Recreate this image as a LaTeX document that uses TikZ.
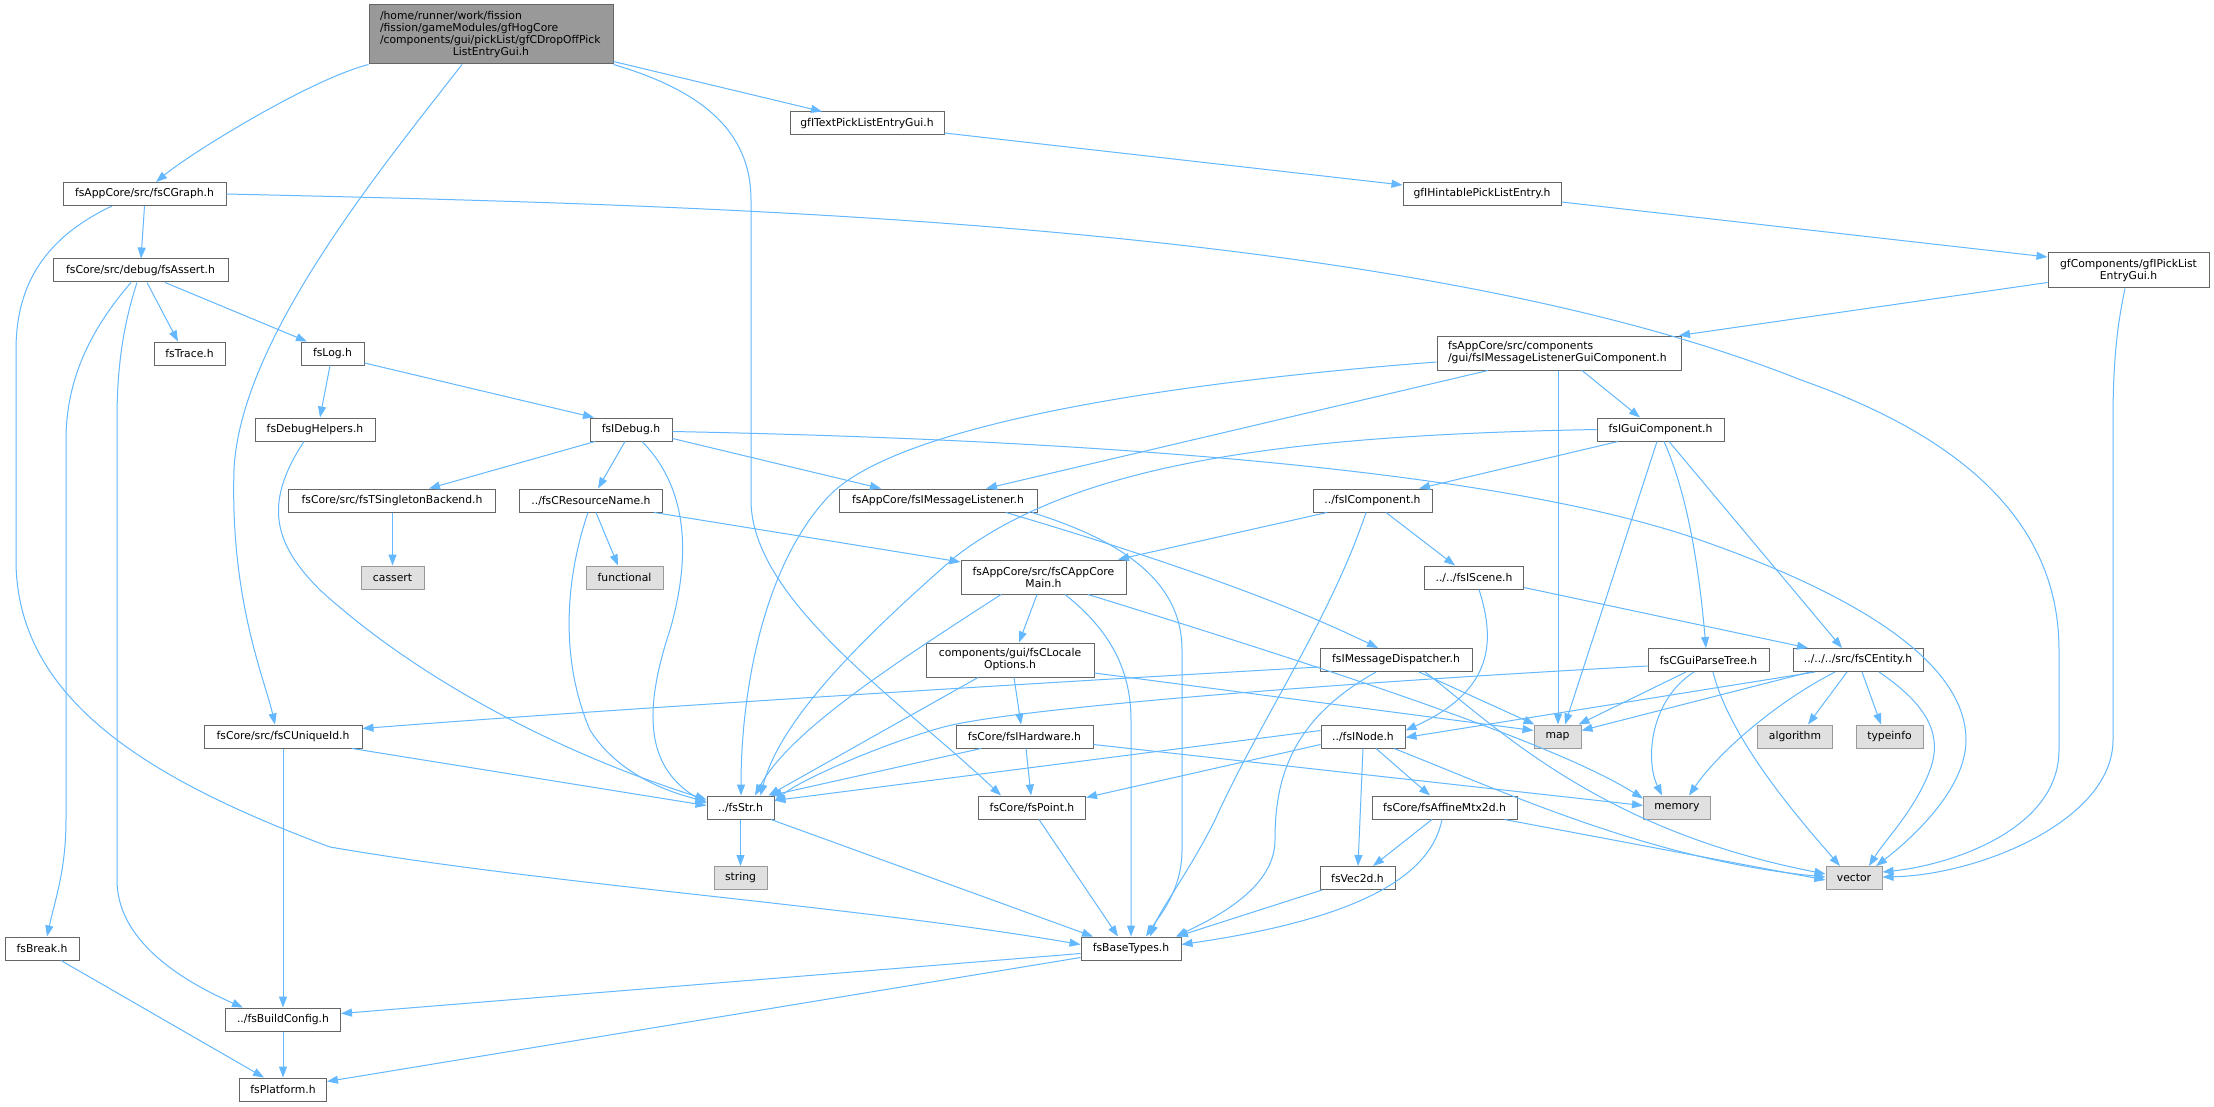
\documentclass[tikz,border=0pt]{standalone}
\usepackage{fontspec}
\newfontfamily\dvs{DejaVu Sans}
\usetikzlibrary{arrows.meta}
\definecolor{edgeblue}{HTML}{63B8FF}
\definecolor{boxborder}{HTML}{666666}
\definecolor{sysfill}{HTML}{E0E0E0}
\definecolor{sysborder}{HTML}{999999}
\definecolor{rootfill}{HTML}{999999}
\begin{document}
\begin{tikzpicture}[x=1pt,y=-1pt,
  box/.style={draw=boxborder, fill=white, line width=1pt, inner sep=0pt, minimum height=23pt, font=\dvs\fontsize{10.8}{12}\selectfont, align=center},
  sysbox/.style={box, draw=sysborder, fill=sysfill},
  rootbox/.style={box, fill=rootfill},
  dep/.style={draw=edgeblue, line width=1pt, -{Triangle[length=11pt,width=8pt]}},
]
\fill[white] (0,0) rectangle (2214,1107);
\useasboundingbox (0,0) rectangle (2214,1107);

% nodes
\node[rootbox, minimum width=244pt, minimum height=59pt, text width=222pt, align=left] (root) at (491,34.5) {/home/runner/work/fission\\/fission/gameModules/gfHogCore\\/components/gui/pickList/gfCDropOffPick\\\makebox[222pt][c]{ListEntryGui.h}};
\node[box, minimum width=163pt] (cgraph) at (144.5,194) {fsAppCore/src/fsCGraph.h};
\node[box, minimum width=175pt] (assert) at (140.5,270.5) {fsCore/src/debug/fsAssert.h};
\node[box, minimum width=71pt] (trace) at (189.5,353.5) {fsTrace.h};
\node[box, minimum width=63pt] (log) at (332.5,353.5) {fsLog.h};
\node[box, minimum width=154pt] (text) at (867,123.5) {gfITextPickListEntryGui.h};
\node[box, minimum width=158pt] (hint) at (1482,194) {gfIHintablePickListEntry.h};
\node[box, minimum width=161pt, minimum height=35pt] (pick) at (2128.5,270.5) {gfComponents/gfIPickList\\EntryGui.h};
\node[box, minimum width=244pt, minimum height=34pt, text width=222pt, align=left] (mlgc) at (1559,353) {fsAppCore/src/components\\/gui/fsIMessageListenerGuiComponent.h};
\node[box, minimum width=120pt] (dbgh) at (315,429.5) {fsDebugHelpers.h};
\node[box, minimum width=82pt] (idebug) at (631,429.5) {fsIDebug.h};
\node[box, minimum width=127pt] (igui) at (1660.5,429.5) {fsIGuiComponent.h};
\node[box, minimum width=207pt] (tsing) at (392,500.5) {fsCore/src/fsTSingletonBackend.h};
\node[box, minimum width=143pt] (resname) at (591,500.5) {../fsCResourceName.h};
\node[box, minimum width=198pt] (imsgl) at (938,500.5) {fsAppCore/fsIMessageListener.h};
\node[box, minimum width=119pt] (icomp) at (1372.5,500.5) {../fsIComponent.h};
\node[sysbox, minimum width=63pt] (cassert) at (392.5,577.5) {cassert};
\node[sysbox, minimum width=77pt] (functional) at (624.5,577.5) {functional};
\node[box, minimum width=165pt, minimum height=34pt] (appcore) at (1043.5,577) {fsAppCore/src/fsCAppCore\\Main.h};
\node[box, minimum width=99pt] (iscene) at (1474,577.5) {../../fsIScene.h};
\node[box, minimum width=158pt] (uniq) at (283,736.5) {fsCore/src/fsCUniqueId.h};
\node[box, minimum width=168pt, minimum height=34pt] (locale) at (1010,660) {components/gui/fsCLocale\\Options.h};
\node[box, minimum width=152pt] (disp) at (1396,660) {fsIMessageDispatcher.h};
\node[box, minimum width=121pt] (parse) at (1708.5,660) {fsCGuiParseTree.h};
\node[box, minimum width=130pt] (entity) at (1858,660) {../../../src/fsCEntity.h};
\node[box, minimum width=137pt] (hw) at (1024.5,736.5) {fsCore/fsIHardware.h};
\node[box, minimum width=84pt] (inode) at (1363,736.5) {../fsINode.h};
\node[sysbox, minimum width=47pt] (map) at (1557.5,736.5) {map};
\node[sysbox, minimum width=75pt] (algo) at (1795,736.5) {algorithm};
\node[sysbox, minimum width=67pt] (typeinfo) at (1889.5,736.5) {typeinfo};
\node[sysbox, minimum width=67pt] (memory) at (1677,807.5) {memory};
\node[box, minimum width=67pt] (str) at (740.5,807.5) {../fsStr.h};
\node[box, minimum width=107pt] (point) at (1032,807.5) {fsCore/fsPoint.h};
\node[box, minimum width=145pt] (affine) at (1444.5,807.5) {fsCore/fsAffineMtx2d.h};
\node[sysbox, minimum width=53pt] (string) at (740.5,878) {string};
\node[box, minimum width=75pt] (vec2d) at (1357.5,878) {fsVec2d.h};
\node[sysbox, minimum width=56pt] (vector) at (1854,878) {vector};
\node[box, minimum width=74pt] (brk) at (42,948.5) {fsBreak.h};
\node[box, minimum width=100pt] (base) at (1131,948.5) {fsBaseTypes.h};
\node[box, minimum width=115pt] (build) at (283,1019.5) {../fsBuildConfig.h};
\node[box, minimum width=87pt] (platform) at (283,1089.5) {fsPlatform.h};

% edges
\draw[dep] (root.south west) .. controls (309,80) and (191,153) .. ([xshift=11.5pt]cgraph.north);
\draw[dep] ([yshift=3pt]root.south east) -- ([xshift=-45pt]text.north);
\draw[dep] (root.south east) .. controls (700,90) and (751,130) .. (751,200) -- (751,500) .. controls (751,600) and (900,700) .. ([xshift=-31pt]point.north);
\draw[dep] ([xshift=-29pt]root.south) .. controls (380,170) and (240,340) .. (234,470) .. controls (230,600) and (265,680) .. ([xshift=-8pt]uniq.north);

\draw[dep] (cgraph.south) -- ([xshift=0.5pt]assert.north);
\draw[dep] ([xshift=-32.5pt]cgraph.south) .. controls (40,240) and (16,290) .. (16,350) -- (16,560) .. controls (16,700) and (150,780) .. (330,847) .. controls (550,885) and (850,905) .. ([yshift=4pt]base.west);
\draw[dep] (cgraph.east) .. controls (700,205) and (1400,220) .. (1801,380) .. controls (2000,450) and (2059,550) .. (2059,650) -- (2059,750) .. controls (2059,830) and (1950,865) .. ([yshift=6pt]vector.east);

\draw[dep] ([xshift=6.5pt]assert.south) -- ([xshift=-11.5pt]trace.north);
\draw[dep] ([xshift=24.5pt]assert.south) -- ([xshift=-25.5pt]log.north);
\draw[dep] ([xshift=-9.5pt]assert.south) .. controls (90,330) and (66,380) .. (66,440) -- (66,820) .. controls (66,870) and (55,900) .. ([xshift=5pt]brk.north);
\draw[dep] ([xshift=-3.5pt]assert.south) .. controls (125,320) and (117,360) .. (117,420) -- (117,880) .. controls (117,940) and (180,980) .. ([xshift=-40pt]build.north);

\draw[dep] ([xshift=-2.5pt]log.south) -- ([xshift=5pt]dbgh.north);
\draw[dep] ([yshift=-9.5pt]log.east) -- ([xshift=-37pt]idebug.north);

\draw[dep] ([xshift=-11pt]dbgh.south) .. controls (262,505) and (275,545) .. (320,590) .. controls (430,690) and (580,760) .. ([yshift=8pt]str.west);

\draw[dep] ([xshift=-36pt]idebug.south) -- ([xshift=37pt]tsing.north);
\draw[dep] ([xshift=-6pt]idebug.south) -- ([xshift=7pt]resname.north);
\draw[dep] ([xshift=11pt]idebug.south) .. controls (690,490) and (690,560) .. (670,630) .. controls (640,720) and (650,770) .. ([yshift=4pt]str.west);
\draw[dep] ([yshift=-9pt]idebug.east) -- ([xshift=-57pt]imsgl.north);
\draw[dep] ([yshift=-2pt]idebug.east) .. controls (1100,440) and (1500,470) .. (1700,540) .. controls (1900,610) and (1966,680) .. (1966,740) .. controls (1966,790) and (1910,840) .. ([xshift=22pt]vector.north);

\draw[dep] ([xshift=0.5pt]tsing.south) -- (cassert.north);
\draw[dep] ([xshift=5pt]resname.south) -- ([xshift=-6.5pt]functional.north);
\draw[dep] ([xshift=-3pt]resname.south) .. controls (565,580) and (560,660) .. (590,730) .. controls (615,770) and (660,790) .. ([yshift=6pt]str.west);
\draw[dep] ([xshift=63pt]resname.south) -- ([yshift=15pt]appcore.west);

\draw[dep] ([xshift=68pt]imsgl.south) .. controls (1150,555) and (1280,600) .. ([xshift=-18pt]disp.north);
\draw[dep] ([xshift=94pt]imsgl.south) .. controls (1120,540) and (1182,580) .. (1182,650) -- (1182,850) .. controls (1182,890) and (1160,915) .. ([xshift=15pt]base.north);

\draw[dep] ([xshift=-71pt]mlgc.south) -- ([xshift=48pt]imsgl.north);
\draw[dep] ([yshift=-9pt]mlgc.west) .. controls (1200,380) and (900,420) .. (828,497) .. controls (760,570) and (741,700) .. ([xshift=0.5pt]str.north);
\draw[dep] ([xshift=23pt]mlgc.south) -- ([xshift=-20.5pt]igui.north);
\draw[dep] ([xshift=-1pt]mlgc.south) -- ([xshift=0.5pt]map.north);

\draw[dep] ([yshift=-12pt]pick.west) -- ([xshift=120pt]mlgc.north);
\draw[dep] ([xshift=-3.5pt]pick.south) .. controls (2116,330) and (2113,370) .. (2113,420) -- (2113,740) .. controls (2113,820) and (1980,875) .. ([yshift=1pt]vector.east);
\draw[dep] ([yshift=-8pt]hint.east) -- ([yshift=13.5pt]pick.west);
\draw[dep] ([yshift=-9.5pt]text.east) -- ([yshift=9pt]hint.west);

\draw[dep] ([xshift=-42.5pt]igui.south) -- ([xshift=46.5pt]icomp.north);
\draw[dep] (igui.west) .. controls (1300,435) and (1080,460) .. (955,557) .. controls (860,640) and (780,720) .. ([xshift=20pt]str.north);
\draw[dep] ([xshift=-3.5pt]igui.south) -- ([xshift=7.5pt]map.north);
\draw[dep] ([xshift=3.5pt]igui.south) .. controls (1690,500) and (1700,580) .. ([xshift=-2.5pt]parse.north);
\draw[dep] ([xshift=8.5pt]igui.south) -- ([xshift=-16pt]entity.north);

\draw[dep] ([xshift=-45.5pt]icomp.south) -- ([xshift=74.5pt]appcore.north);
\draw[dep] ([xshift=13.5pt]icomp.south) -- ([xshift=-19pt]iscene.north);
\draw[dep] ([xshift=-6.5pt]icomp.south) .. controls (1330,620) and (1260,720) .. (1215,820) .. controls (1190,870) and (1160,910) .. ([xshift=19pt]base.north);

\draw[dep] ([yshift=-10pt]iscene.east) -- ([xshift=-50pt]entity.north);
\draw[dep] ([xshift=5pt]iscene.south) .. controls (1495,640) and (1495,690) .. ([yshift=6pt]inode.east);

\draw[dep] ([xshift=-6.5pt]appcore.south) -- ([xshift=9pt]locale.north);
\draw[dep] ([xshift=-42.5pt]appcore.south) .. controls (900,660) and (790,730) .. ([xshift=14.5pt]str.north);
\draw[dep] ([xshift=21.5pt]appcore.south) .. controls (1110,630) and (1131,670) .. (1131,720) -- (base.north);
\draw[dep] ([xshift=44.5pt]appcore.south) .. controls (1300,660) and (1550,740) .. ([yshift=9pt]memory.west);

\draw[dep] ([xshift=4pt]locale.south) -- ([xshift=-3.5pt]hw.north);
\draw[dep] ([xshift=-32pt]locale.south) -- ([xshift=28pt]str.north);
\draw[dep] ([yshift=-13pt]locale.east) -- ([yshift=6pt]map.west);

\draw[dep] ([yshift=-7pt]disp.west) .. controls (1000,685) and (600,710) .. ([yshift=8pt]uniq.east);
\draw[dep] ([xshift=23pt]disp.south) -- ([xshift=-23pt]map.north);
\draw[dep] ([xshift=29pt]disp.south) .. controls (1500,730) and (1600,830) .. ([yshift=4pt]vector.west);
\draw[dep] ([xshift=-20pt]disp.south) .. controls (1290,720) and (1275,780) .. (1275,840) .. controls (1275,890) and (1210,920) .. ([xshift=45pt]base.north);

\draw[dep] ([yshift=-6pt]parse.west) .. controls (1300,685) and (1000,710) .. (940,728) .. controls (880,745) and (800,780) .. ([yshift=6pt]str.east);
\draw[dep] ([xshift=-22.5pt]parse.south) -- ([xshift=21pt]map.north);
\draw[dep] ([xshift=-14.5pt]parse.south) .. controls (1650,700) and (1645,760) .. ([xshift=-15pt]memory.north);
\draw[dep] ([xshift=4.5pt]parse.south) .. controls (1730,740) and (1800,820) .. ([xshift=-14pt]vector.north);

\draw[dep] ([xshift=-43pt]entity.south) -- ([yshift=-1pt]inode.east);
\draw[dep] ([xshift=-48pt]entity.south) -- ([yshift=6pt]map.east);
\draw[dep] ([xshift=-11pt]entity.south) -- ([xshift=13pt]algo.north);
\draw[dep] ([xshift=4pt]entity.south) -- ([xshift=-8.5pt]typeinfo.north);
\draw[dep] ([xshift=-23pt]entity.south) .. controls (1780,700) and (1720,750) .. ([xshift=12pt]memory.north);
\draw[dep] ([xshift=21pt]entity.south) .. controls (1920,700) and (1945,730) .. (1930,770) .. controls (1915,810) and (1885,840) .. ([xshift=15pt]vector.north);

\draw[dep] ([xshift=-43.5pt]hw.south) -- ([xshift=30pt]str.north);
\draw[dep] ([xshift=1.5pt]hw.south) -- ([xshift=-1pt]point.north);
\draw[dep] ([yshift=-8pt]hw.east) -- ([yshift=2pt]memory.west);

\draw[dep] ([yshift=6pt]inode.west) -- ([yshift=7pt]str.east);
\draw[dep] ([yshift=-8pt]inode.west) -- ([yshift=10pt]point.east);
\draw[dep] (inode.south) -- ([xshift=0.5pt]vec2d.north);
\draw[dep] ([xshift=13pt]inode.south) -- ([xshift=-14.5pt]affine.north);
\draw[dep] ([xshift=31pt]inode.south) .. controls (1500,790) and (1650,860) .. ([yshift=1pt]vector.west);

\draw[dep] ([xshift=-12.5pt]affine.south) -- ([xshift=15.5pt]vec2d.north);
\draw[dep] ([xshift=-2.5pt]affine.south) .. controls (1430,880) and (1350,920) .. ([yshift=4pt]base.east);
\draw[dep] ([xshift=60pt]affine.south) -- ([yshift=-2pt]vector.west);

\draw[dep] ([xshift=-35.5pt]vec2d.south) -- ([xshift=46pt]base.north);
\draw[dep] ([xshift=7pt]point.south) -- ([xshift=-13pt]base.north);
\draw[dep] (str.south) -- (string.north);
\draw[dep] ([xshift=30.5pt]str.south) -- ([xshift=-38pt]base.north);

\draw[dep] (uniq.south) -- (build.north);
\draw[dep] ([xshift=69pt]uniq.south) -- ([yshift=2pt]str.west);

\draw[dep] ([yshift=-5pt]base.west) -- ([yshift=6pt]build.east);
\draw[dep] ([yshift=-9pt]base.west) -- ([yshift=8pt]platform.east);
\draw[dep] (build.south) -- (platform.north);
\draw[dep] ([xshift=19pt]brk.south) -- ([xshift=-19pt]platform.north);
\end{tikzpicture}
\end{document}
